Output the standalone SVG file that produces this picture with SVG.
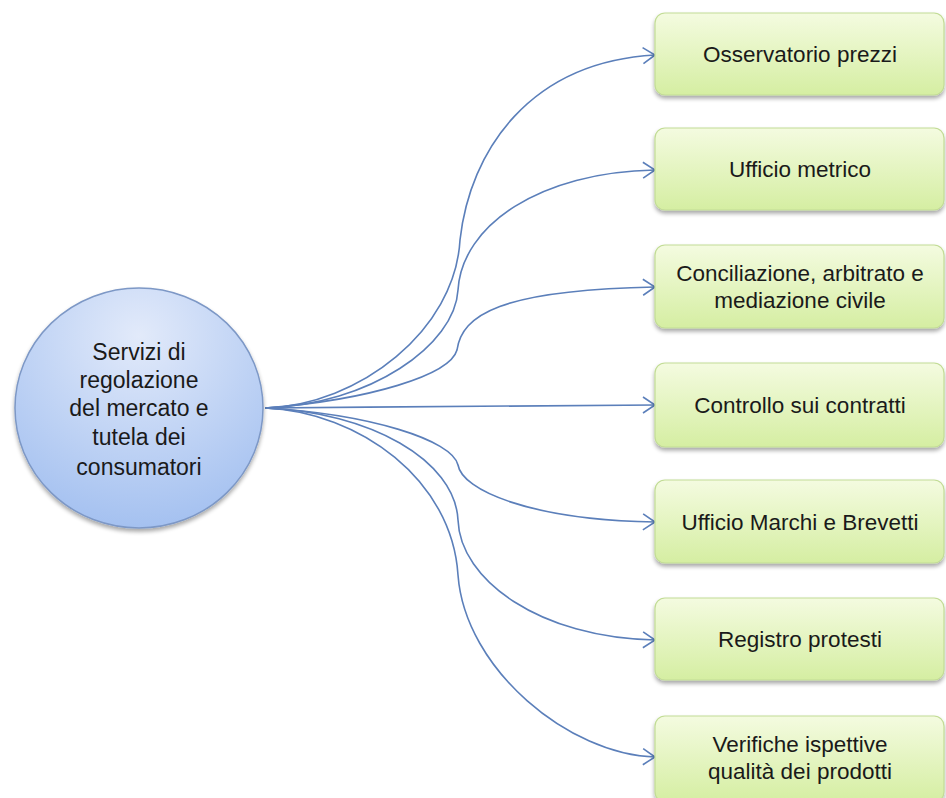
<svg xmlns="http://www.w3.org/2000/svg" width="946" height="798" viewBox="0 0 946 798">
<defs>
<linearGradient id="gBox" x1="0" y1="0" x2="0" y2="1">
<stop offset="0" stop-color="#f4fbe0"/>
<stop offset="1" stop-color="#d5eea2"/>
</linearGradient>
<radialGradient id="gCirc" cx="0.5" cy="0.2" r="0.9">
<stop offset="0" stop-color="#e2eafa"/>
<stop offset="1" stop-color="#9dbcef"/>
</radialGradient>
<filter id="sh" x="-10%" y="-10%" width="120%" height="130%">
<feGaussianBlur in="SourceAlpha" stdDeviation="2"/>
<feOffset dy="3"/>
<feComponentTransfer><feFuncA type="linear" slope="0.35"/></feComponentTransfer>
<feMerge><feMergeNode/><feMergeNode in="SourceGraphic"/></feMerge>
</filter>
<marker id="arr" markerUnits="userSpaceOnUse" markerWidth="16" markerHeight="20" refX="13" refY="9" orient="auto" viewBox="0 0 16 18">
<path d="M1,1 L13,9 L1,17" fill="none" stroke="#5b7fba" stroke-width="1.6"/>
</marker>
</defs>
<style>
.box{fill:url(#gBox);stroke:#c2dc95;stroke-width:1.2;filter:url(#sh)}
.bt{font-family:"Liberation Sans",Arial,sans-serif;font-size:22.5px;fill:#1a1a1a;text-anchor:middle}
.ct{font-family:"Liberation Sans",Arial,sans-serif;font-size:23px;fill:#1a1a1a;text-anchor:middle}
.con{fill:none;stroke:#5b7fba;stroke-width:1.6;marker-end:url(#arr)}
</style>
<rect width="946" height="798" fill="#ffffff"/>
<g id="connectors">
<path class="con" d="M265,408 C360,405 455,330 460,240 C470,150 530,62 655,55"/>
<path class="con" d="M265,408 C370,405 455,345 458,290 C462,225 540,172 655,170"/>
<path class="con" d="M265,408 C370,400 450,375 457,350 C462,315 500,290 655,287"/>
<path class="con" d="M265,408 C400,407 550,405 655,405"/>
<path class="con" d="M265,408 C370,414 452,440 458,465 C462,490 530,520 655,522"/>
<path class="con" d="M265,408 C370,412 455,460 458,520 C460,580 540,638 655,640"/>
<path class="con" d="M265,408 C360,412 452,480 458,575 C465,670 570,755 655,757"/>
</g>
<g id="center">
<ellipse cx="139" cy="408" rx="124" ry="120" fill="url(#gCirc)" stroke="#7d98c6" stroke-width="1.5" filter="url(#sh)"/>
<text class="ct" x="139" y="360">Servizi di</text>
<text class="ct" x="139" y="388">regolazione</text>
<text class="ct" x="139" y="416">del mercato e</text>
<text class="ct" x="139" y="445">tutela dei</text>
<text class="ct" x="139" y="475">consumatori</text>
</g>
<g id="n1"><rect class="box" x="655" y="13" width="289" height="82" rx="10"/><text class="bt" x="800" y="62">Osservatorio prezzi</text></g>
<g id="n2"><rect class="box" x="655" y="128" width="289" height="82" rx="10"/><text class="bt" x="800" y="177">Ufficio metrico</text></g>
<g id="n3"><rect class="box" x="655" y="245" width="289" height="83" rx="10"/><text class="bt" x="800" y="281">Conciliazione, arbitrato e</text><text class="bt" x="800" y="308">mediazione civile</text></g>
<g id="n4"><rect class="box" x="655" y="363" width="289" height="84" rx="10"/><text class="bt" x="800" y="413">Controllo sui contratti</text></g>
<g id="n5"><rect class="box" x="655" y="480" width="289" height="83" rx="10"/><text class="bt" x="800" y="530">Ufficio Marchi e Brevetti</text></g>
<g id="n6"><rect class="box" x="655" y="598" width="289" height="82" rx="10"/><text class="bt" x="800" y="647">Registro protesti</text></g>
<g id="n7"><rect class="box" x="655" y="716" width="289" height="86" rx="10"/><text class="bt" x="800" y="752">Verifiche ispettive</text><text class="bt" x="800" y="779">qualità dei prodotti</text></g>
</svg>
